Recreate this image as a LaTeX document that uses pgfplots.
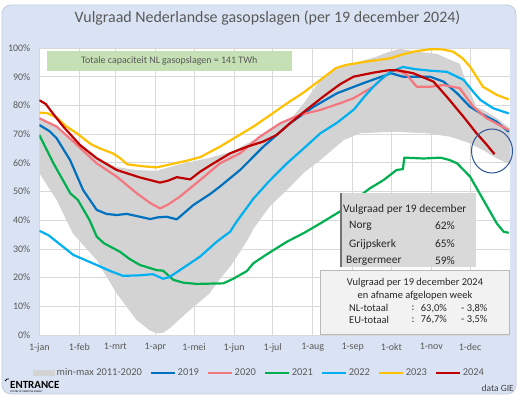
\documentclass[border=0pt]{standalone}
\usepackage{fontspec}
\setmainfont{Carlito}
\usepackage{pgfplots}
\pgfplotsset{compat=1.18}
\definecolor{bgblue}{HTML}{DAE3F3}
\definecolor{bgborder}{HTML}{C3CCDB}
\definecolor{gridgray}{HTML}{D9D9D9}
\definecolor{labelgray}{HTML}{595959}
\definecolor{bandgray}{HTML}{D3D3D3}
\definecolor{c2019}{HTML}{0070C0}
\definecolor{c2020}{HTML}{F4777F}
\definecolor{c2021}{HTML}{00B050}
\definecolor{c2022}{HTML}{00B0F0}
\definecolor{c2023}{HTML}{FFC000}
\definecolor{c2024}{HTML}{C00000}
\definecolor{boxgreen}{HTML}{C5E0B4}
\definecolor{boxgray}{HTML}{D9D9D9}
\definecolor{boxlight}{HTML}{F2F2F2}
\definecolor{circblue}{HTML}{2F5597}
\begin{document}
\begin{tikzpicture}[x=1bp,y=1bp]
\fill[white] (0,0) rectangle (518,400);
\draw[fill=bgblue, draw=bgborder, line width=0.8bp, rounded corners=9bp] (2,6) rectangle (516,395);
\node[text=labelgray, font=\fontsize{16}{19}\selectfont] at (267.5,382) {Vulgraad Nederlandse gasopslagen (per 19 december 2024)};
\begin{axis}[
  at={(39.3bp,65bp)}, anchor=south west,
  scale only axis, width=470.7bp, height=287bp,
  xmin=0, xmax=365, ymin=0, ymax=100,
  axis background/.style={fill=white},
  axis lines*=left,
  axis line style={draw=gridgray, line width=0.8bp},
  xtick={0,31,59,90,120,151,181,212,243,273,304,334},
  xticklabels={1-jan,1-feb,1-mrt,1-apr,1-mei,1-jun,1-jul,1-aug,1-sep,1-okt,1-nov,1-dec},
  ytick={0,10,20,30,40,50,60,70,80,90,100},
  yticklabels={0\%,10\%,20\%,30\%,40\%,50\%,60\%,70\%,80\%,90\%,100\%},
  grid=major, major grid style={draw=gridgray, line width=0.8bp},
  major tick length=0pt,
  tick label style={font=\fontsize{10}{12}\selectfont, text=labelgray},
  xticklabel style={yshift=-5bp},
  yticklabel style={xshift=-5.5bp},
  legend style={at={(-0.0134,-0.1324)}, anchor=west, draw=none, fill=none, inner sep=0pt,
    font=\fontsize{10.5}{12}\selectfont, text=labelgray, nodes={inner sep=1.5bp},
    /tikz/every even column/.append style={column sep=6bp}},
  legend columns=-1,
  legend image code/.code={\draw[#1, line width=2.8bp] (0bp,0bp) -- (24bp,0bp);},
  every axis plot/.append style={line width=2.2bp, line join=round},
]
\addplot[fill=bandgray, draw=none, line width=0pt,
  legend image code/.code={\fill[bandgray] (0bp,-2.6bp) rectangle (22bp,2.6bp);}] coordinates {
(0,76) (13.5,73) (26,68) (44.5,61.5) (60,58.5) (75,57.5) (91,57.2) (109,59.5) (130,61.5) (150,64) (171,69.1) (187,73.8) (197,76.3) (205,80.7) (218,88.9) (230,92.5) (244,94.7) (261.7,97) (270,98.5) (280,99.7) (293,98.7) (308,98) (318,96) (326,94.5) (331,88) (339,79.5) (345,78.3) (355,75.5) (365,72)
(365,59.5) (355,61.5) (345,64.2) (334,66.8) (318.5,69.1) (300.5,70.3) (274.6,70.8) (248.7,70.3) (236,67.9) (218,61) (205,56.5) (192,50.5) (179,45) (166,37) (163,34.3) (155,28.5) (148,23.8) (140,19.5) (132,14.5) (114,7.6) (101,2.3) (96,0.8) (91,0.6) (86,1.5) (75.5,5.2) (60,14.5) (44.5,26.1) (26,35.4) (13.5,47) (0,56.4)
};
\addlegendentry{min-max 2011-2020}
\addplot[c2019] coordinates {
(0,73.2) (8,71) (13.5,68.5) (23.8,61) (34,50.5) (44.5,43.6) (52,42.2) (60,41.8) (67.8,42.2) (78,41.2) (85.9,40.4) (92,41) (98.8,41.2) (106.6,40.3) (119.5,45.3) (132.4,49.1) (140,51.7) (155.7,57.5) (173.7,65.6) (194.5,73.8) (212.7,79.5) (230.7,84.2) (251,87.7) (272.8,91.2) (282,90) (303,90) (313.4,88.3) (324,84.2) (334,79.5) (344.4,76.7) (354.7,74.3) (364,70.8)
};
\addlegendentry{2019}
\addplot[c2020] coordinates {
(0,75.5) (13.5,72.6) (26.4,67.4) (44.5,59.8) (60,55.2) (75.5,49.4) (86,46) (93.6,44.1) (100,45.5) (109,48.2) (124.7,54) (140,59.8) (155.7,63.3) (171,69.1) (187,73.8) (202.2,76.7) (217.7,78.4) (233,80.7) (243.6,82.5) (259,86.5) (272.8,92.1) (280,91.8) (285,90.6) (292.7,86.5) (303,86.5) (313.4,87.1) (326,86) (336.6,79.5) (347,75.5) (364,71.4)
};
\addlegendentry{2020}
\addplot[c2021] coordinates {
(0,69.7) (11,59.8) (24,49.4) (30,47) (39,40) (44.5,34.3) (50,32) (55,30.8) (62.6,29) (70,26.5) (78,24.4) (91,22.6) (96,22.4) (104,19.2) (112,18.2) (122,17.8) (142.7,18) (150,19.5) (161,22.3) (166,25) (176,28) (192,32.5) (205,35.5) (218,38.9) (233,43) (241,45.9) (256,51) (267,54) (277,57.5) (282,57.8) (283,61.8) (298,61.5) (311,61.8) (318,61) (324,59.8) (334,55.2) (344.4,47) (354.7,38.9) (360,36) (364,35.6)
};
\addlegendentry{2021}
\addplot[c2022] coordinates {
(0,36.3) (7,34.8) (13.5,32.5) (26.4,27.9) (44.5,24.4) (55,22.3) (65,20.6) (78,20.8) (88,21.2) (91,20.6) (96,19.6) (101,20.2) (109,22.6) (124.6,27.3) (137.6,32.5) (148,36) (153,39.5) (166,47.5) (178,53.5) (192,59.8) (205,65) (218,70.3) (231,74) (244,78.6) (252,83) (259,86.5) (266,89.5) (273,91.8) (282,93.4) (292,92.6) (303,92.1) (316,91.7) (329,88.9) (336,85) (342,81.9) (352,79) (364,77.2)
};
\addlegendentry{2022}
\addplot[c2023] coordinates {
(0,77.5) (6,77.3) (13.5,75.8) (20,73) (29,70.3) (40,66.5) (47,65) (57,63.3) (63,61.5) (68,59.5) (80,58.8) (91,58.4) (100,59.3) (114,60.7) (125,62) (140,65.6) (150,68.3) (166,72.6) (178,76.3) (192,80.7) (205,84.5) (218,88.9) (230,93) (238,94.1) (254,95.3) (272,96.4) (282,97.8) (290,98.7) (303,99.6) (313,99.5) (321,98.7) (328,96.5) (334,93.5) (344,86.5) (355,83.6) (364,82.1)
};
\addlegendentry{2023}
\addplot[c2024] coordinates {
(0,81.8) (5,80.5) (10,77.5) (18.6,72.6) (31.6,66.2) (44.5,61.6) (60,57.5) (78,54.9) (93.6,53.1) (100,53.8) (106.6,55) (117,54.2) (124.7,56.9) (135,59.8) (148,63.3) (161,65.6) (173.7,67.4) (184,69.7) (194.5,73.8) (207,78.4) (220,83) (233,87.3) (243.6,90) (259,91.4) (270,92.2) (277,92.3) (290,91.2) (305.6,88.3) (316,83) (329,76) (339,70.3) (346,66.8) (353,63.0)
};
\addlegendentry{2024}
\end{axis}
% green capacity box
\fill[boxgreen] (46.7,329) rectangle (292,349.3);
\node[text=labelgray, font=\fontsize{10}{12}\selectfont] at (169.3,339.2) {Totale capaciteit NL gasopslagen = 141 TWh};
% gray box
\fill[boxgray] (340,132.7) rectangle (476,206.7);
\draw[draw=gray!90!black, line width=1.6bp] (341,132.7) -- (341,206.7);
\begin{scope}[font=\fontsize{11.5}{13}\selectfont, text=black!85]
\node[anchor=west, inner sep=0] at (343,190) {Vulgraad per 19 december};
\node[anchor=west, inner sep=0] at (349,174.3) {Norg};
\node[anchor=east, inner sep=0] at (455,174.3) {62\%};
\node[anchor=west, inner sep=0] at (349,156) {Grijpskerk};
\node[anchor=east, inner sep=0] at (455,156) {65\%};
\node[anchor=west, inner sep=0] at (346,139.3) {Bergermeer};
\node[anchor=east, inner sep=0] at (455,139.3) {59\%};
\end{scope}
% light box
\draw[fill=boxlight, draw=gray!55, line width=0.6bp] (320,66) rectangle (509,129.3);
\begin{scope}[font=\fontsize{10.5}{12}\selectfont, text=black!85]
\node at (415,117.7) {Vulgraad per 19 december 2024};
\node at (415,104) {en afname afgelopen week};
\node[anchor=west, inner sep=0] at (349,91.7) {NL-totaal};
\node[anchor=west, inner sep=0] at (411.5,91.7) {:};
\node[anchor=west, inner sep=0] at (420.7,91.7) {63,0\%};
\node[anchor=west, inner sep=0] at (461,91.7) {- 3,8\%};
\node[anchor=west, inner sep=0] at (349,80) {EU-totaal};
\node[anchor=west, inner sep=0] at (411.5,80) {:};
\node[anchor=west, inner sep=0] at (420.7,80) {76,7\%};
\node[anchor=west, inner sep=0] at (461,80) {- 3,5\%};
\end{scope}
% circle
\draw[circblue, line width=1bp] (492,249) ellipse [x radius=20.5, y radius=22];
% logo and source
\draw[black, line width=0.8bp] (5,19) -- (7,21) -- (9,21);
\node[anchor=west, inner sep=0, font=\fontsize{11}{12}\bfseries\selectfont] at (10,15.5) {ENTRANCE};
\node[anchor=west, inner sep=0, font=\fontsize{2.6}{3}\selectfont] at (10,8.5) {CENTRE OF EXPERTISE ENERGY};
\node[anchor=east, inner sep=0, text=black!75, font=\fontsize{9.5}{11}\selectfont] at (514,12) {data GIE};
\end{tikzpicture}
\end{document}
